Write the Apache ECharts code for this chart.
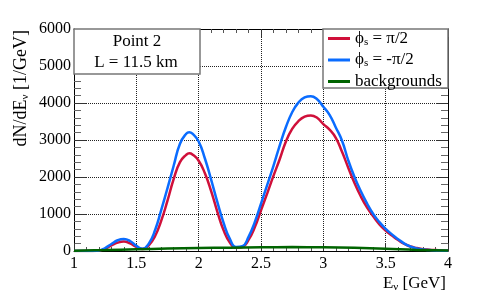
<!DOCTYPE html>
<html><head><meta charset="utf-8">
<script src="https://cdn.jsdelivr.net/npm/echarts@6/dist/echarts.min.js"></script>
<style>html,body{margin:0;padding:0;background:#fff}#c{width:498px;height:296px}</style>
</head><body><div id="c"></div>
<script>
var energy = [1.0,1.05,1.1,1.15,1.2,1.25,1.3,1.35,1.4,1.45,1.5,1.55,1.6,1.65,1.7,1.75,1.8,1.85,1.9,1.925,1.95,2.0,2.05,2.1,2.15,2.2,2.25,2.3,2.35,2.4,2.45,2.5,2.55,2.6,2.65,2.7,2.75,2.8,2.85,2.9,2.95,3.0,3.05,3.1,3.15,3.2,3.25,3.3,3.35,3.4,3.45,3.5,3.55,3.6,3.65,3.7,3.75,3.8,3.85,3.9,3.95,4.0];
var phiPlus = [0,0,0,2,10,60,150,225,255,205,110,55,150,400,820,1360,1950,2400,2600,2640,2610,2440,2100,1620,1060,560,230,90,110,300,640,1100,1560,2030,2480,2960,3300,3510,3630,3665,3600,3430,3280,3060,2680,2250,1840,1480,1180,940,720,550,420,295,190,120,80,50,35,25,15,10];
var phiMinus = [0,0,0,3,15,80,190,290,325,270,140,60,200,560,1110,1700,2310,2900,3170,3210,3170,2960,2500,1930,1320,760,330,110,130,380,780,1280,1790,2300,2850,3350,3750,4010,4150,4185,4100,3900,3680,3340,2980,2450,2000,1620,1290,1000,780,600,450,320,200,120,70,40,25,15,10,5];
var bgEnergy = [1.0,1.25,1.5,1.75,2.0,2.25,2.5,2.75,3.0,3.25,3.5,3.75,4.0];
var bgValues = [10,25,45,65,80,90,100,105,100,85,60,30,15];
var xTicks = [1,1.5,2,2.5,3,3.5,4];
var yTicks = [0,1000,2000,3000,4000,5000,6000];
var names = ['plus','minus','bg'];
var legendText = {plus:'{a|ϕ}{s|s}{a| = π/2}', minus:'{a|ϕ}{s|s}{a| = -π/2}', bg:'{a|backgrounds}'};

function pairs(xs, ys){ return xs.map(function(x,i){return [x, ys[i]];}); }
var F = 'Liberation Serif';
var chart = echarts.init(document.getElementById('c'), null, {renderer:'canvas'});
var gridStyle = {show:true, lineStyle:{type:'dotted', color:'#222', width:1}};
chart.setOption({
  animation:false,
  backgroundColor:'#fff',
  grid:{left:74, top:29, width:374, height:222, containLabel:false},
  xAxis:[
    {type:'value', min:1, max:4, interval:0.5, position:'bottom',
     axisLine:{show:true, onZero:false, lineStyle:{color:'#000', width:1}},
     axisTick:{show:true, inside:true, length:8, lineStyle:{color:'#333'}},
     minorTick:{show:true, splitNumber:5, length:4, lineStyle:{color:'#555'}},
     splitLine:gridStyle,
     axisLabel:{show:true, margin:5, color:'#000', fontFamily:F, fontSize:16, showMinLabel:true, showMaxLabel:true,
       formatter:function(v){ return xTicks.indexOf(v) >= 0 ? String(v) : ''; }}},
    {type:'value', min:1, max:4, interval:0.5, position:'top',
     axisLine:{show:true, onZero:false, lineStyle:{color:'#000', width:1}},
     axisTick:{show:true, inside:true, length:8, lineStyle:{color:'#333'}},
     minorTick:{show:true, splitNumber:5, length:4, lineStyle:{color:'#555'}},
     splitLine:{show:false}, axisLabel:{show:false}}
  ],
  yAxis:[
    {type:'value', min:0, max:6000, interval:1000, position:'left',
     axisLine:{show:true, onZero:false, lineStyle:{color:'#000', width:1}},
     axisTick:{show:true, inside:true, length:12, lineStyle:{color:'#333'}},
     minorTick:{show:true, splitNumber:5, length:7, lineStyle:{color:'#666'}},
     splitLine:gridStyle,
     axisLabel:{show:true, margin:3, color:'#000', fontFamily:F, fontSize:16,
       formatter:function(v){ return yTicks.indexOf(v) >= 0 ? String(v) : ''; }}},
    {type:'value', min:0, max:6000, interval:1000, position:'right',
     axisLine:{show:true, onZero:false, lineStyle:{color:'#000', width:1}},
     axisTick:{show:true, inside:true, length:12, lineStyle:{color:'#333'}},
     minorTick:{show:true, splitNumber:5, length:7, lineStyle:{color:'#666'}},
     splitLine:{show:false}, axisLabel:{show:false}}
  ],
  legend:{
    orient:'vertical', left:328, top:30, z:10, padding:0,
    data:names, icon:'rect', itemWidth:22, itemHeight:3, itemGap:4,
    formatter:function(n){ return legendText[n]; },
    textStyle:{fontFamily:F, fontSize:17, color:'#000',
      rich:{a:{fontFamily:F, fontSize:17, lineHeight:18, color:'#000'},
            s:{fontFamily:F, fontSize:11, lineHeight:11, verticalAlign:'bottom', padding:[6,0,0,0], color:'#000'}}}
  },
  graphic:[
    {type:'rect', z:5, shape:{x:74, y:29, width:126, height:45}, style:{fill:'#fff', stroke:'#777', lineWidth:1.5}},
    {type:'text', z:6, x:137, y:42, style:{text:'Point 2', font:'17px "Liberation Serif"', fill:'#000', align:'center', verticalAlign:'middle'}},
    {type:'text', z:6, x:136, y:63, style:{text:'L = 11.5 km', font:'17px "Liberation Serif"', fill:'#000', align:'center', verticalAlign:'middle'}},
    {type:'rect', z:5, shape:{x:323, y:29, width:125, height:59}, style:{fill:'#fff', stroke:'#777', lineWidth:1.5}},
    {type:'text', z:6, x:21, y:30, rotation:Math.PI/2,
     style:{text:'{a|dN/dE}{s|ν}{a| [1/GeV]}', align:'right', verticalAlign:'middle',
       rich:{a:{fontFamily:F, fontSize:18, lineHeight:19, fill:'#000'},
             s:{fontFamily:F, fontSize:11, lineHeight:11, verticalAlign:'bottom', padding:[6,0,0,0], fill:'#000'}}}},
    {type:'text', z:6, x:446, y:284,
     style:{text:'{a|E}{s|ν}{a| [GeV]}', align:'right', verticalAlign:'middle',
       rich:{a:{fontFamily:F, fontSize:17, lineHeight:18, fill:'#000'},
             s:{fontFamily:F, fontSize:11, lineHeight:11, verticalAlign:'bottom', padding:[6,0,0,0], fill:'#000'}}}}
  ],
  series:[
    {name:'plus', type:'line', data:pairs(energy, phiPlus), smooth:0.5, showSymbol:false, color:'#d0103a', lineStyle:{width:2.5, color:'#d0103a'}, z:2},
    {name:'minus', type:'line', data:pairs(energy, phiMinus), smooth:0.5, showSymbol:false, color:'#0a6cff', lineStyle:{width:2.5, color:'#0a6cff'}, z:2},
    {name:'bg', type:'line', data:pairs(bgEnergy, bgValues), smooth:0.5, showSymbol:false, color:'#006400', lineStyle:{width:2.5, color:'#006400'}, z:3}
  ]
});
</script></body></html>
